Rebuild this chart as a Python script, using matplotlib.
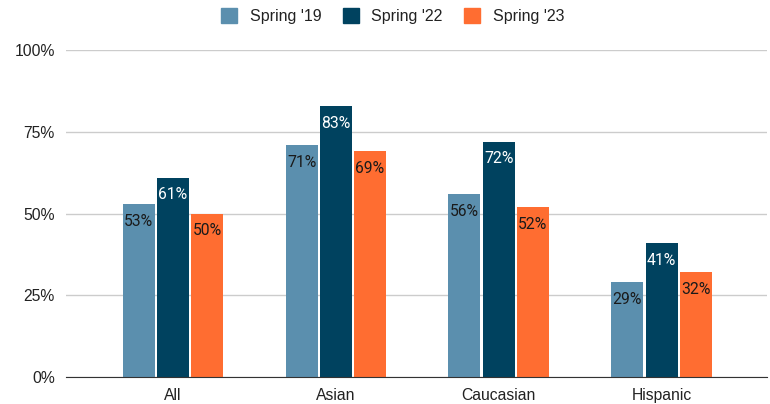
import matplotlib.pyplot as plt
from matplotlib.patches import Patch
import numpy as np

plt.rcParams['font.family'] = ['Liberation Sans', 'DejaVu Sans']

# Groups and survey results (percent)
groups = ["All", "Asian", "Caucasian", "Hispanic"]
spring19 = [53, 71, 56, 29]
spring22 = [61, 83, 72, 41]
spring23 = [50, 69, 52, 32]
series_names = ["Spring '19", "Spring '22", "Spring '23"]
colors = ["#5b8fae", "#00425f", "#ff6d31"]
label_colors = ["#1a1a1a", "#ffffff", "#1a1a1a"]

fig = plt.figure(figsize=(7.7, 4.04), dpi=100)
ax = fig.add_axes([0.0857, 0.067, 0.911, 0.809])

x = np.arange(len(groups))
width = 0.196
step = 0.21
for i, (vals, c, lc) in enumerate(zip([spring19, spring22, spring23], colors, label_colors)):
    pos = x + (i - 1) * step
    ax.bar(pos, vals, width=width, color=c, zorder=3)
    for px, v in zip(pos, vals):
        ax.annotate(f"{v}%", (px, v), xytext=(0, -12.5), textcoords="offset points",
                    ha="center", va="center", fontsize=11.3, color=lc, zorder=4,
                    family=["Roboto", "DejaVu Sans"])

ax.set_xlim(-0.656, 3.65)
ax.set_ylim(0, 100)
ax.set_yticks([0, 25, 50, 75, 100])
ax.set_yticklabels(["0%", "25%", "50%", "75%", "100%"])
ax.set_xticks(x)
ax.set_xticklabels(groups)
ax.tick_params(axis="both", length=0, labelsize=11.3, colors="#222222")
ax.tick_params(axis="y", pad=8)
ax.tick_params(axis="x", pad=8)
ax.yaxis.grid(True, color="#cccccc", linewidth=1, zorder=0)
for s in ["top", "right", "left"]:
    ax.spines[s].set_visible(False)
ax.spines["bottom"].set_color("#333333")
ax.spines["bottom"].set_zorder(5)

handles = [Patch(color=c, label=n) for c, n in zip(colors, series_names)]
fig.legend(handles=handles, loc="upper center", bbox_to_anchor=(0.51, 1.015), ncol=3,
           frameon=False, fontsize=11.5, handlelength=1.0, handleheight=1.0,
           columnspacing=1.35, handletextpad=0.8, labelcolor="#222222")

fig.savefig("out.png", dpi=100)
